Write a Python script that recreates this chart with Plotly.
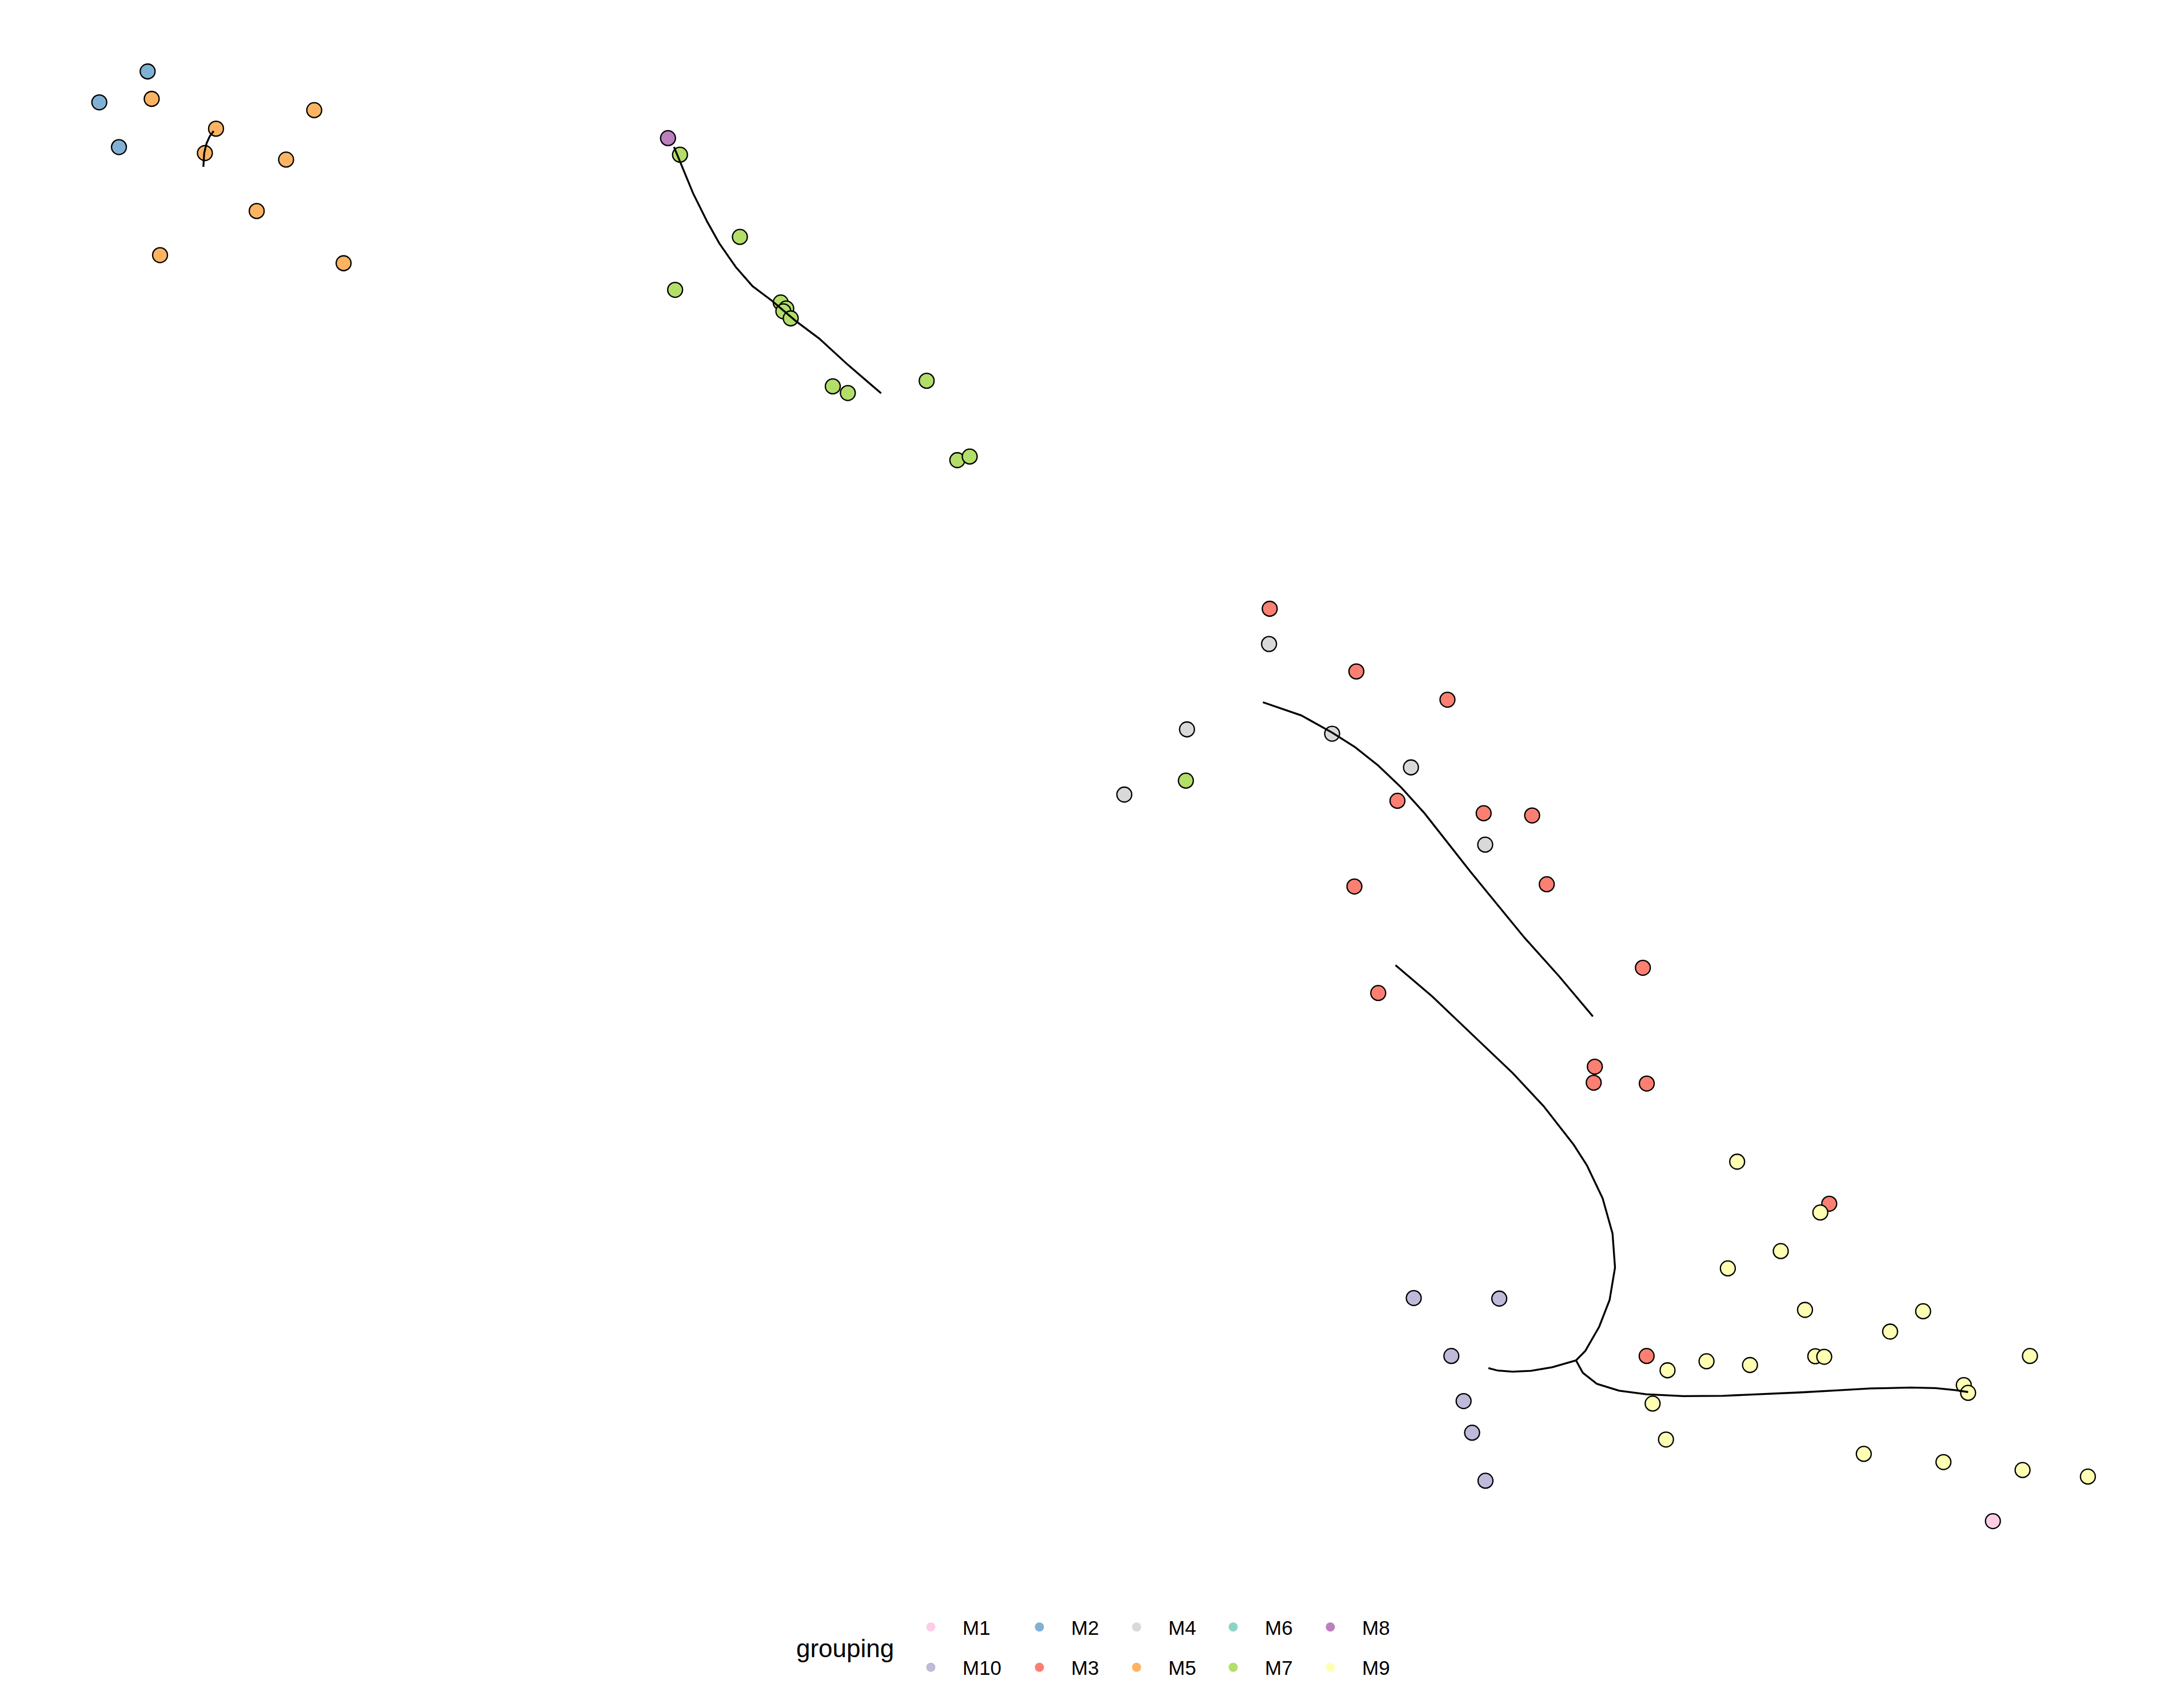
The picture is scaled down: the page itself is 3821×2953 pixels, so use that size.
import plotly.graph_objects as go

W, H = 3821, 2953

# group names (legend order, column-wise as in the reference) and colours
groups = ["M1", "M10", "M2", "M3", "M4", "M5", "M6", "M7", "M8", "M9"]
colors = {"M1": "#FCCDE5", "M10": "#BEBADA", "M2": "#80B1D3", "M3": "#FB8072",
          "M4": "#D9D9D9", "M5": "#FDB462", "M6": "#8DD3C7", "M7": "#B3DE69",
          "M8": "#BC80BD", "M9": "#FFFFB3"}

# embedding coordinates per group (dim1, dim2; dim2 grows downward)
pts = {
    "M1": ([1430.8], [1092.2]),
    "M10": ([1015.0, 1076.4, 1042.0, 1050.8, 1056.9, 1066.5],
            [932.0, 932.4, 973.6, 1006.0, 1028.7, 1063.2]),
    "M2": ([106.0, 71.3, 85.4], [51.3, 73.5, 105.6]),
    "M3": ([911.6, 973.8, 1039.2, 1003.3, 1065.2, 1100.0, 1110.5, 972.4, 1179.5,
            989.5, 1145.0, 1144.2, 1182.3, 1313.3, 1182.2],
           [437.1, 482.1, 502.4, 575.0, 583.9, 585.5, 634.9, 636.5, 694.9,
            713.0, 765.9, 777.4, 778.0, 864.3, 973.6]),
    "M4": ([911.1, 852.2, 956.4, 1013.0, 807.2, 1066.3],
           [462.4, 523.7, 526.8, 551.0, 570.5, 606.5]),
    "M5": ([108.9, 155.1, 225.6, 147.1, 205.4, 184.3, 114.9, 246.7],
           [71.0, 92.4, 79.1, 109.9, 114.6, 151.5, 183.2, 189.0]),
    "M6": ([], []),
    "M7": ([488.2, 531.2, 484.7, 560.5, 564.5, 562.4, 567.7, 597.9, 608.7, 665.3,
            687.3, 696.2, 851.4],
           [111.1, 170.1, 208.1, 217.2, 221.5, 223.5, 228.6, 277.4, 282.2, 273.4,
            330.4, 327.8, 560.5]),
    "M8": ([479.6], [99.2]),
    "M9": ([1247.2, 1306.9, 1278.5, 1240.5, 1295.9, 1380.7, 1357.0, 1197.2, 1225.2,
            1256.4, 1303.3, 1309.7, 1457.4, 1409.9, 1413.0, 1186.5, 1196.1, 1338.1,
            1395.3, 1452.1, 1499.0],
           [834.1, 870.6, 898.3, 910.7, 940.5, 941.5, 956.1, 983.9, 977.4,
            980.1, 973.8, 974.2, 973.6, 994.5, 1000.1, 1007.8, 1033.6, 1043.9,
            1049.8, 1055.5, 1060.2]),
}

# trajectory curves
curve_a_x = [153.4, 150.5, 148.3, 146.6, 146.0]
curve_a_y = [94.1, 98.0, 102.9, 110.0, 119.8]
curve_b_x = [483.9, 488.2, 497.6, 507.8, 516.4, 528.3, 540.3, 554.0, 571.1, 588.2, 608.7, 632.6]
curve_b_y = [105.5, 115.8, 138.8, 159.3, 174.7, 191.8, 205.5, 215.8, 230.3, 243.1, 261.9, 282.4]
curve_c_x = [906.7, 934.3, 956.4, 972.9, 989.5, 1006.1, 1022.7, 1039.2, 1055.8, 1075.1, 1094.5, 1119.3, 1143.6]
curve_c_y = [504.2, 513.7, 526.0, 536.5, 549.7, 565.5, 583.9, 604.9, 626.0, 649.6, 673.3, 700.9, 729.8]
curve_d_x = [1001.9, 1028.2, 1055.8, 1086.2, 1108.3, 1129.8, 1139.3, 1150.6, 1157.7, 1159.5,
             1155.6, 1148.1, 1138.2, 1131.5]
curve_d_y = [693.0, 715.4, 741.7, 770.6, 794.3, 821.9, 836.7, 860.4, 885.6, 910.1,
             933.4, 952.7, 969.9, 976.8]
branch_l_x = [1131.5, 1114.4, 1099.1, 1086.0, 1075.4, 1068.6]
branch_l_y = [976.8, 981.7, 984.3, 984.9, 984.1, 982.3]
branch_r_x = [1131.5, 1136.4, 1146.4, 1162.4, 1181.9, 1208.5, 1236.9, 1265.3, 1293.7, 1318.6,
              1343.4, 1371.9, 1389.6, 1403.8, 1413.0]
branch_r_y = [976.8, 985.7, 993.6, 998.5, 1001.1, 1002.4, 1002.2, 1001.1, 999.7, 998.3,
              996.9, 996.3, 996.7, 998.1, 999.5]

FONT = "Liberation Sans, Arial, Helvetica, sans-serif"

fig = go.Figure()

for g in groups:
    xs, ys = pts[g]
    fig.add_trace(go.Scatter(
        x=xs, y=ys, mode="markers", name=g, legendgroup=g, showlegend=False,
        marker=dict(size=26, color=colors[g], line=dict(color="black", width=2.3)),
    ))

curves = [(curve_a_x, curve_a_y), (curve_b_x, curve_b_y), (curve_c_x, curve_c_y),
          (curve_d_x, curve_d_y), (branch_l_x, branch_l_y), (branch_r_x, branch_r_y)]
for cx, cy in curves:
    fig.add_trace(go.Scatter(x=cx, y=cy, mode="lines", showlegend=False,
                             line=dict(color="black", width=3.3), hoverinfo="skip"))

# legend: 5 columns of 2 rows (column-wise order)
col_marker_px = [1626, 1816, 1986, 2155, 2325]
legend_keys = ["legend", "legend2", "legend3", "legend4", "legend5"]
for i, g in enumerate(groups):
    col = i // 2
    fig.add_trace(go.Scatter(
        x=[None], y=[None], mode="markers", name=g, legendgroup=g,
        legend=legend_keys[col], showlegend=True,
        marker=dict(size=22, color=colors[g], line=dict(width=0)),
    ))

layout_legends = {}
for col, key in enumerate(legend_keys):
    layout_legends[key] = dict(
        x=(col_marker_px[col] - 53) / W, xanchor="left",
        y=1 - 2817 / H, yanchor="top",
        orientation="v", bgcolor="rgba(0,0,0,0)", borderwidth=0,
        font=dict(family=FONT, size=35, color="black"),
        tracegroupgap=22, itemwidth=101,
    )

fig.update_layout(
    width=W, height=H,
    margin=dict(l=0, r=0, t=0, b=0),
    paper_bgcolor="white", plot_bgcolor="white",
    xaxis=dict(range=[0, 1568], visible=False, fixedrange=True),
    yaxis=dict(range=[1212, 0], visible=False, fixedrange=True),
    **layout_legends,
    annotations=[dict(text="grouping", x=1566 / W, y=1 - 2883 / H, xref="paper", yref="paper",
                      xanchor="right", yanchor="middle", showarrow=False,
                      font=dict(family=FONT, size=44, color="black"))],
)

fig.write_html("out.html", config={"displayModeBar": False},
               post_script="document.body.style.margin='0';")
